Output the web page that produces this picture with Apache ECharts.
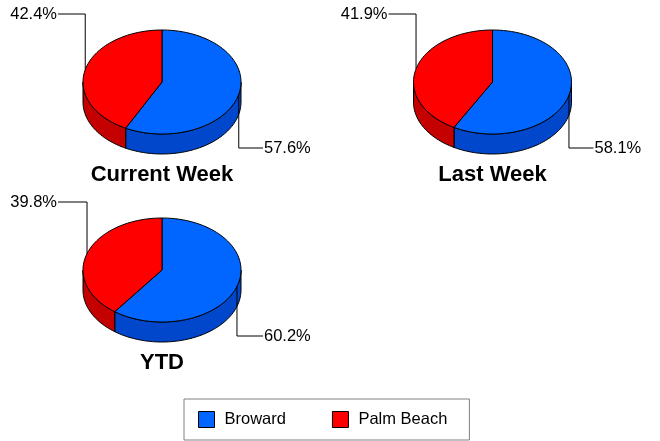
<!DOCTYPE html>
<html>
<head>
<meta charset="utf-8">
<style>
  html, body { margin: 0; padding: 0; background: #fff; }
  #chart { width: 660px; height: 441px; }
</style>
<script src="https://cdn.jsdelivr.net/npm/echarts@6/dist/echarts.min.js"></script>
</head>
<body>
<div id="chart"></div>
<script>
// Share of each county per period (percent)
const periods = ['Current Week', 'Last Week', 'YTD'];
const broward = [57.6, 58.1, 60.2];
const palmBeach = [42.4, 41.9, 39.8];
const regions = ['Broward', 'Palm Beach'];

// Pie placement (centre of top face) and shape of the tilted disc
const pieCenters = [[162, 82], [492.5, 82], [162, 270]];
const RX = 79, RY = 52, DEPTH = 20;
const topColors = ['#0066ff', '#ff0000'];
const sideColors = ['#0047cc', '#c40000'];
const FONT = 'Arial, "Liberation Sans", sans-serif';

// Point on the ellipse; angle in degrees, clockwise from 12 o'clock
function pt(cx, cy, deg, dy) {
  const a = deg * Math.PI / 180;
  return [cx + RX * Math.sin(a), cy - RY * Math.cos(a) + (dy || 0)];
}
function arc(cx, cy, a0, a1, dy) {
  const pts = [];
  const n = Math.max(2, Math.ceil(Math.abs(a1 - a0) / 2));
  for (let k = 0; k <= n; k++) pts.push(pt(cx, cy, a0 + (a1 - a0) * k / n, dy));
  return pts;
}

function makeRender(regionIdx) {
  return function (params, api) {
    const i = params.dataIndex;
    const val = api.value(0);
    const total = broward[i] + palmBeach[i];
    const [cx, cy] = pieCenters[i];
    // Broward runs clockwise from the top, Palm Beach fills the rest
    const bSpan = broward[i] / total * 360;
    const a0 = regionIdx === 0 ? 0 : bSpan;
    const a1 = regionIdx === 0 ? bSpan : 360;
    const children = [];

    // Visible side wall: the front half of the disc (90..270 deg)
    const s0 = Math.max(a0, 90), s1 = Math.min(a1, 270);
    if (s1 > s0) {
      const upper = arc(cx, cy, s0, s1, 0);
      const lower = arc(cx, cy, s1, s0, DEPTH);
      children.push({
        type: 'polygon', z2: 1,
        shape: { points: upper.concat(lower) },
        style: { fill: sideColors[regionIdx], stroke: '#000', lineWidth: 1 }
      });
    }
    // Top face
    children.push({
      type: 'polygon', z2: 2,
      shape: { points: [[cx, cy]].concat(arc(cx, cy, a0, a1, 0)) },
      style: { fill: topColors[regionIdx], stroke: '#000', lineWidth: 1 }
    });

    // Leader line and percentage label
    const mid = pt(cx, cy, (a0 + a1) / 2, 0);
    const pct = (val / total * 100).toFixed(1) + '%';
    if (regionIdx === 1) {
      const ly = cy - 68;
      const tx = cx - 104;
      children.push({
        type: 'polyline', z2: 3,
        shape: { points: [mid, [mid[0], ly], [tx, ly]] },
        style: { stroke: '#000', lineWidth: 1, fill: null }
      });
      children.push({
        type: 'text', z2: 3,
        style: { text: pct, x: tx - 1, y: ly, align: 'right', verticalAlign: 'middle',
                 font: '16.5px ' + FONT, fill: '#000' }
      });
    } else {
      const ly = cy + 66;
      const tx = cx + 101;
      children.push({
        type: 'polyline', z2: 3,
        shape: { points: [mid, [mid[0], ly], [tx, ly]] },
        style: { stroke: '#000', lineWidth: 1, fill: null }
      });
      children.push({
        type: 'text', z2: 3,
        style: { text: pct, x: tx + 1, y: ly, align: 'left', verticalAlign: 'middle',
                 font: '16.5px ' + FONT, fill: '#000' }
      });
    }
    return { type: 'group', children };
  };
}

const chart = echarts.init(document.getElementById('chart'), null, { renderer: 'canvas' });
chart.setOption({
  animation: false,
  backgroundColor: '#fff',
  title: periods.map((p, i) => ({
    text: p,
    left: pieCenters[i][0],
    top: pieCenters[i][1] + 82,
    textAlign: 'center',
    padding: 0,
    textStyle: { fontSize: 22, fontWeight: 'bold', color: '#000', fontFamily: FONT }
  })),
  legend: {
    data: regions,
    left: 184,
    top: 399,
    padding: [12, 22, 12, 14],
    itemGap: 46,
    itemWidth: 16,
    itemHeight: 16,
    icon: 'rect',
    backgroundColor: '#fff',
    borderColor: '#808080',
    borderWidth: 1,
    borderRadius: 0,
    itemStyle: { borderColor: '#000', borderWidth: 1 },
    textStyle: { fontSize: 16.5, color: '#000', fontFamily: FONT, padding: [0, 0, 0, 5] }
  },
  series: [
    {
      type: 'custom', name: regions[0], coordinateSystem: 'none',
      itemStyle: { color: topColors[0] },
      data: broward.map(v => [v]),
      renderItem: makeRender(0)
    },
    {
      type: 'custom', name: regions[1], coordinateSystem: 'none',
      itemStyle: { color: topColors[1] },
      data: palmBeach.map(v => [v]),
      renderItem: makeRender(1)
    }
  ]
});
</script>
</body>
</html>
